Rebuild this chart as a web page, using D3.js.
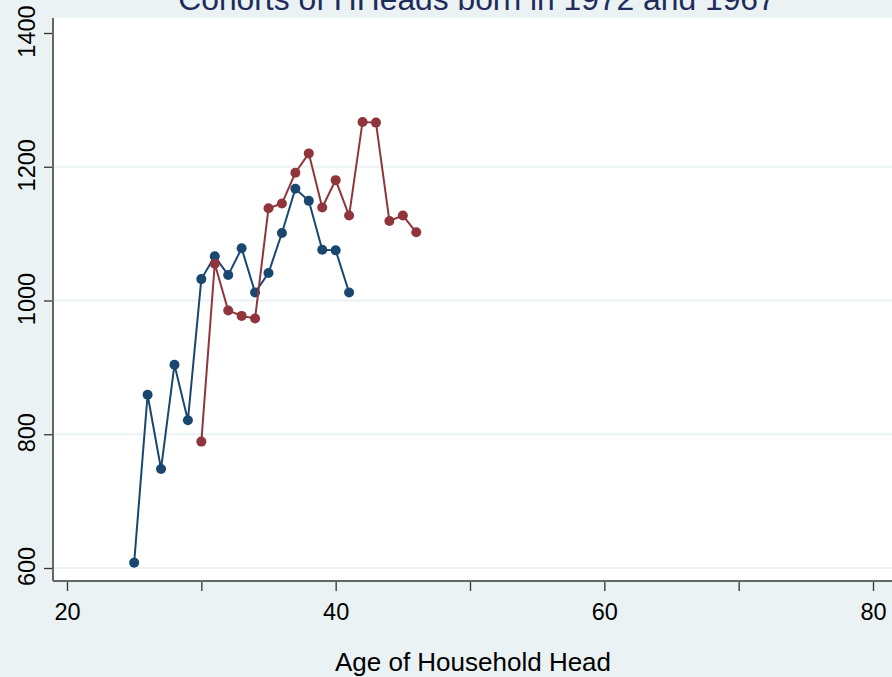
<!DOCTYPE html>
<html>
<head>
<meta charset="utf-8">
<script src="https://cdn.jsdelivr.net/npm/d3@7"></script>
<style>
  html, body { margin: 0; padding: 0; background: #eaf2f3; }
  svg { display: block; }
  text { font-family: "Liberation Sans", Arial, Helvetica, sans-serif; }
</style>
</head>
<body>
<svg id="chart" width="892" height="677"></svg>
<script>
// Mean values by age of household head, two birth cohorts
const agesCohort1972 = [25, 26, 27, 28, 29, 30, 31, 32, 33, 34, 35, 36, 37, 38, 39, 40, 41];
const valuesCohort1972 = [608, 859, 748, 904, 821, 1032, 1066, 1038, 1078, 1012, 1041, 1101, 1167, 1149, 1076, 1075, 1012];

const agesCohort1967 = [30, 31, 32, 33, 34, 35, 36, 37, 38, 39, 40, 41, 42, 43, 44, 45, 46];
const valuesCohort1967 = [789, 1055, 985, 977, 973, 1138, 1145, 1191, 1220, 1139, 1180, 1127, 1267, 1266, 1119, 1127, 1102];

const xTicks = [20, 30, 40, 50, 60, 70, 80];
const xLabels = [20, 40, 60, 80];
const yTicks = [600, 800, 1000, 1200, 1400];
const yGrid = [600, 800, 1000, 1200];

const titleText = "Cohorts of HHeads born in 1972 and 1967";
const xTitleText = "Age of Household Head";

const colors = { c1972: "#1a476f", c1967: "#90353b" };

const W = 892, H = 677;
const plot = { left: 53, top: 18, right: 892, bottom: 581 };

const svg = d3.select("#chart");

// Plot region
svg.append("rect")
  .attr("x", plot.left).attr("y", plot.top)
  .attr("width", plot.right - plot.left).attr("height", plot.bottom - plot.top)
  .attr("fill", "#ffffff");

const x = d3.scaleLinear().domain([20, 80]).range([67, 873]);
const y = d3.scaleLinear().domain([600, 1400]).range([568, 33]);

// Horizontal grid lines
svg.append("g").selectAll("line").data(yGrid).join("line")
  .attr("x1", plot.left).attr("x2", plot.right)
  .attr("y1", d => y(d)).attr("y2", d => y(d))
  .attr("stroke", "#eaf2f3").attr("stroke-width", 2);

// X axis
const xAxis = d3.axisBottom(x)
  .tickValues(xTicks)
  .tickSize(10)
  .tickPadding(12)
  .tickFormat(d => xLabels.includes(d) ? d : "");
const gx = svg.append("g").attr("transform", `translate(0,${plot.bottom})`).call(xAxis);
gx.select(".domain").remove();
gx.selectAll(".tick line").attr("stroke", "#333").attr("stroke-width", 1.3);
gx.selectAll(".tick text").attr("fill", "#000").style("font-size", "23.5px")
  .attr("font-family", "Liberation Sans, Arial, sans-serif");
svg.append("line")
  .attr("x1", plot.left).attr("x2", plot.right)
  .attr("y1", plot.bottom).attr("y2", plot.bottom)
  .attr("stroke", "#666").attr("stroke-width", 2);

// Y axis
const yAxis = d3.axisLeft(y)
  .tickValues(yTicks)
  .tickSize(9)
  .tickFormat(d => d);
const gy = svg.append("g").attr("transform", `translate(${plot.left},0)`).call(yAxis);
gy.select(".domain").remove();
gy.selectAll(".tick line").attr("stroke", "#333").attr("stroke-width", 1.3);
gy.selectAll(".tick text")
  .attr("fill", "#000").style("font-size", "23.5px")
  .attr("font-family", "Liberation Sans, Arial, sans-serif")
  .attr("x", null).attr("dy", null)
  .attr("text-anchor", "middle")
  .attr("transform", "translate(-18,-2) rotate(-90)");
svg.append("line")
  .attr("x1", plot.left).attr("x2", plot.left)
  .attr("y1", plot.top).attr("y2", plot.bottom)
  .attr("stroke", "#666").attr("stroke-width", 2);

// Series
const line = d3.line().x(d => x(d[0])).y(d => y(d[1]));
const series = [
  { ages: agesCohort1972, values: valuesCohort1972, color: colors.c1972 },
  { ages: agesCohort1967, values: valuesCohort1967, color: colors.c1967 }
];
series.forEach(s => {
  const pts = s.ages.map((a, i) => [a, s.values[i]]);
  svg.append("path").datum(pts)
    .attr("d", line)
    .attr("fill", "none")
    .attr("stroke", s.color)
    .attr("stroke-width", 2);
  svg.append("g").selectAll("circle").data(pts).join("circle")
    .attr("cx", d => x(d[0])).attr("cy", d => y(d[1]))
    .attr("r", 5)
    .attr("fill", s.color);
});

// Titles
svg.append("text")
  .attr("x", 477).attr("y", 10)
  .attr("text-anchor", "middle")
  .attr("fill", "#1e2c5c")
  .style("font-size", "31.8px")
  .text(titleText);

svg.append("text")
  .attr("x", 473).attr("y", 671)
  .attr("text-anchor", "middle")
  .attr("fill", "#000")
  .style("font-size", "26px")
  .text(xTitleText);
</script>
</body>
</html>
